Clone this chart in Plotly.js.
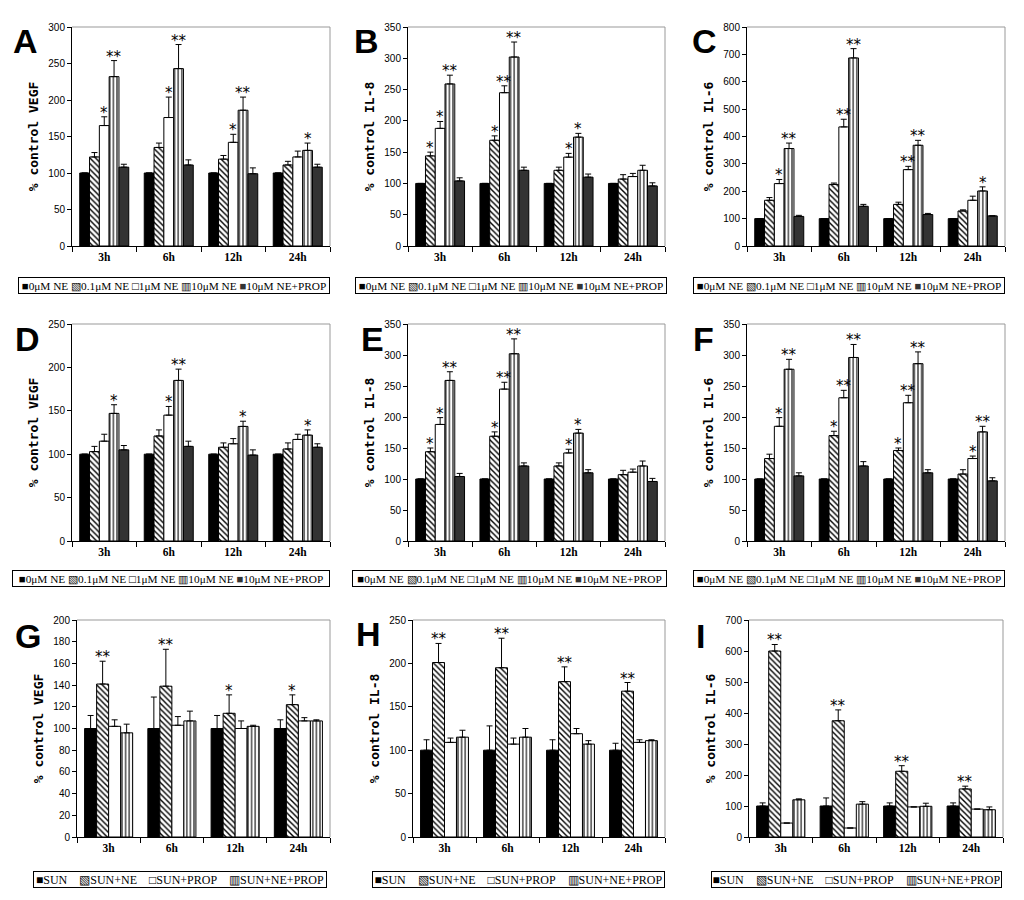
<!DOCTYPE html>
<html><head><meta charset="utf-8">
<script src="https://cdn.plot.ly/plotly-3.0.1.min.js"></script>
<style>body{margin:0;background:#fff}</style>
</head><body><div id="chart" style="width:1024px;height:900px"></div>
<script>
// ---------- categories & series ----------
const hours = ['3h','6h','12h','24h'];
const neSeries = ['0μM NE','0.1μM NE','1μM NE','10μM NE','10μM NE+PROP'];
const sunSeries = ['SUN','SUN+NE','SUN+PROP','SUN+NE+PROP'];
const letters = ['A','B','C','D','E','F','G','H','I'];
const yTitles = ['% control VEGF','% control IL-8','% control IL-6','% control VEGF','% control IL-8','% control IL-6','% control VEGF','% control IL-8','% control IL-6'];
const yMax = [300,350,800,250,350,350,200,250,700];
const yStep = [50,50,100,50,50,50,20,50,100];

// ---------- Panel A (VEGF) ----------
const A_ne0 = [100,100,100,100], A_ne0_err = [0,0,0,0];
const A_ne01 = [122,135,119,111], A_ne01_err = [6,6,5,5];
const A_ne1 = [165,176,142,122], A_ne1_err = [12,28,11,8];
const A_ne10 = [232,243,186,131], A_ne10_err = [22,33,18,10];
const A_prop = [108,111,99,108], A_prop_err = [4,7,8,4];
const A_sig1 = ['*','*','*',''], A_sig10 = ['**','**','**','*'];

// ---------- Panel B (IL-8) ----------
const B_ne0 = [100,100,100,100], B_ne0_err = [0,0,0,0];
const B_ne01 = [144,169,121,107], B_ne01_err = [6,7,5,7];
const B_ne1 = [188,245,142,111], B_ne1_err = [11,11,6,5];
const B_ne10 = [259,302,174,121], B_ne10_err = [14,24,6,8];
const B_prop = [104,121,110,96], B_prop_err = [5,5,5,5];
const B_sig01 = ['*','*','',''], B_sig1 = ['*','**','*',''], B_sig10 = ['**','**','*',''];

// ---------- Panel C (IL-6) ----------
const C_ne0 = [100,100,100,100], C_ne0_err = [0,0,0,0];
const C_ne01 = [167,225,152,128], C_ne01_err = [10,5,8,4];
const C_ne1 = [228,435,279,167], C_ne1_err = [15,28,12,15];
const C_ne10 = [356,687,368,201], C_ne10_err = [20,34,18,15];
const C_prop = [108,145,115,110], C_prop_err = [4,7,4,0];
const C_sig1 = ['*','**','**',''], C_sig10 = ['**','**','**','*'];

// ---------- Panel D (VEGF) ----------
const D_ne0 = [100,100,100,100], D_ne0_err = [0,0,0,0];
const D_ne01 = [103,121,108,106], D_ne01_err = [6,7,5,7];
const D_ne1 = [115,145,112,117], D_ne1_err = [8,10,6,6];
const D_ne10 = [147,185,132,122], D_ne10_err = [10,13,6,6];
const D_prop = [105,109,99,108], D_prop_err = [5,6,6,4];
const D_sig1 = ['','*','',''], D_sig10 = ['*','**','*','*'];

// ---------- Panel E (IL-8) ----------
const E_ne0 = [100,100,100,100], E_ne0_err = [0,0,0,0];
const E_ne01 = [144,169,121,107], E_ne01_err = [6,7,5,7];
const E_ne1 = [188,245,142,111], E_ne1_err = [11,11,6,5];
const E_ne10 = [259,302,174,121], E_ne10_err = [14,24,6,8];
const E_prop = [104,121,110,96], E_prop_err = [5,5,5,5];
const E_sig01 = ['*','*','',''], E_sig1 = ['*','**','*',''], E_sig10 = ['**','**','*',''];

// ---------- Panel F (IL-6) ----------
const F_ne0 = [100,100,100,100], F_ne0_err = [0,0,0,0];
const F_ne01 = [133,170,146,108], F_ne01_err = [7,7,4,7];
const F_ne1 = [185,231,223,133], F_ne1_err = [14,12,12,4];
const F_ne10 = [277,296,286,176], F_ne10_err = [16,21,19,9];
const F_prop = [105,121,110,97], F_prop_err = [5,7,5,5];
const F_sig01 = ['','*','*',''], F_sig1 = ['*','**','**','*'], F_sig10 = ['**','**','**','**'];

// ---------- Panel G (VEGF) ----------
const G_sun = [100,100,100,100], G_sun_err = [12,29,12,8];
const G_sunne = [141,139,114,122], G_sunne_err = [21,34,17,9];
const G_sunprop = [102,103,100,107], G_sunprop_err = [6,8,7,3];
const G_sunneprop = [96,107,102,107], G_sunneprop_err = [8,9,1,1];
const G_sig = ['**','**','*','*'];

// ---------- Panel H (IL-8) ----------
const H_sun = [100,100,100,100], H_sun_err = [12,28,12,8];
const H_sunne = [201,195,179,168], H_sunne_err = [22,34,17,10];
const H_sunprop = [109,107,119,109], H_sunprop_err = [5,7,6,3];
const H_sunneprop = [115,115,107,111], H_sunneprop_err = [8,10,4,1];
const H_sig = ['**','**','**','**'];

// ---------- Panel I (IL-6) ----------
const I_sun = [100,100,100,100], I_sun_err = [10,26,10,10];
const I_sunne = [600,375,212,155], I_sunne_err = [21,35,18,9];
const I_sunprop = [45,29,97,90], I_sunprop_err = [0,0,0,0];
const I_sunneprop = [120,106,99,88], I_sunneprop_err = [3,8,10,9];
const I_sig = ['**','**','**','**'];

const none = ['','','',''];

// ---------- assemble panels from the named arrays ----------
const panels = [
  {names: neSeries, vals:[A_ne0,A_ne01,A_ne1,A_ne10,A_prop], errs:[A_ne0_err,A_ne01_err,A_ne1_err,A_ne10_err,A_prop_err], sig:[none,none,A_sig1,A_sig10,none]},
  {names: neSeries, vals:[B_ne0,B_ne01,B_ne1,B_ne10,B_prop], errs:[B_ne0_err,B_ne01_err,B_ne1_err,B_ne10_err,B_prop_err], sig:[none,B_sig01,B_sig1,B_sig10,none]},
  {names: neSeries, vals:[C_ne0,C_ne01,C_ne1,C_ne10,C_prop], errs:[C_ne0_err,C_ne01_err,C_ne1_err,C_ne10_err,C_prop_err], sig:[none,none,C_sig1,C_sig10,none]},
  {names: neSeries, vals:[D_ne0,D_ne01,D_ne1,D_ne10,D_prop], errs:[D_ne0_err,D_ne01_err,D_ne1_err,D_ne10_err,D_prop_err], sig:[none,none,D_sig1,D_sig10,none]},
  {names: neSeries, vals:[E_ne0,E_ne01,E_ne1,E_ne10,E_prop], errs:[E_ne0_err,E_ne01_err,E_ne1_err,E_ne10_err,E_prop_err], sig:[none,E_sig01,E_sig1,E_sig10,none]},
  {names: neSeries, vals:[F_ne0,F_ne01,F_ne1,F_ne10,F_prop], errs:[F_ne0_err,F_ne01_err,F_ne1_err,F_ne10_err,F_prop_err], sig:[none,F_sig01,F_sig1,F_sig10,none]},
  {names: sunSeries, vals:[G_sun,G_sunne,G_sunprop,G_sunneprop], errs:[G_sun_err,G_sunne_err,G_sunprop_err,G_sunneprop_err], sig:[none,G_sig,none,none]},
  {names: sunSeries, vals:[H_sun,H_sunne,H_sunprop,H_sunneprop], errs:[H_sun_err,H_sunne_err,H_sunprop_err,H_sunneprop_err], sig:[none,H_sig,none,none]},
  {names: sunSeries, vals:[I_sun,I_sunne,I_sunprop,I_sunneprop], errs:[I_sun_err,I_sunne_err,I_sunprop_err,I_sunneprop_err], sig:[none,I_sig,none,none]}
];

// ---------- styles ----------
const hatch = {shape:'\\', fgcolor:'#000', bgcolor:'#fff', size:4, solidity:0.35};
const vlines = {shape:'|', fgcolor:'#000', bgcolor:'#fff', size:3.6, solidity:0.3};
const neStyle = [
  {color:'#000'}, {color:'#fff', pattern:hatch}, {color:'#fff'}, {color:'#fff', pattern:vlines}, {color:'#333'}
];
const sunStyle = [
  {color:'#000'}, {color:'#fff', pattern:hatch}, {color:'#fff'}, {color:'#fff', pattern:vlines}
];
const neGlyphs = ['■','▧','□','▥','■'], neGlyphCol = ['#000','#000','#000','#000','#333'];
const sunGlyphs = ['■','▧','□','▥'], sunGlyphCol = ['#000','#000','#000','#000'];

// ---------- geometry (pixels in the 1024x900 page) ----------
const W = 1024, H = 900;
const colX = [[[72,330],[408,665],[747,1005]], [[72,330],[408,665],[747,1005]], [[77,330],[413,665],[749,1003]]];
const rowY = [[27,246],[324,541],[620,837]];
const legX = [[[18,330],[355,667],[693,1005]], [[12,330],[352,667],[693,1005]], [[33,327],[372,665],[711,1002]]];
const legY = [285, 578, 879];
const letterPos = [[25,27],[366,27],[704,27],[27,325],[372,325],[703,325],[28,622],[368,620],[700,622]];
const BARGAP = 0.24;

const traces = [];
const annotations = [];
const shapes = [];
const layout = {
  width: W, height: H, margin:{l:0,r:0,t:0,b:0},
  paper_bgcolor:'#fff', plot_bgcolor:'#fff',
  barmode:'group', bargap: BARGAP, bargroupgap: 0,
  showlegend:false, font:{family:'Liberation Sans', color:'#000'}
};

panels.forEach((p, k) => {
  const r = Math.floor(k/3), c = k%3;
  const sfx = k === 0 ? '' : String(k+1);
  const xa = 'x'+sfx, ya = 'y'+sfx;
  const styles = p.names.length === 5 ? neStyle : sunStyle;
  const n = p.names.length;
  p.vals.forEach((v, i) => {
    traces.push({
      type:'bar', x: hours, y: v, name: p.names[i], xaxis: xa, yaxis: ya,
      marker: Object.assign({line:{color:'#000', width:1}}, styles[i]),
      error_y: {type:'data', symmetric:false, array: p.errs[i], arrayminus: v.map(()=>0), color:'#000', thickness:1, width:3},
      hoverinfo:'x+y+name'
    });
    // significance stars
    const w = (1-BARGAP)/n;
    p.sig[i].forEach((s, j) => {
      if (!s) return;
      annotations.push({xref: xa, yref: ya, x: j - (1-BARGAP)/2 + w*(i+0.5), y: v[j] + p.errs[i][j],
        text: s, showarrow:false, yanchor:'bottom', xanchor:'center', yshift:-7,
        font:{family:'DejaVu Sans', size:15, color:'#000'}});
    });
  });
  const [x0,x1] = colX[r][c], [y0,y1] = rowY[r];
  layout['xaxis'+sfx] = {
    domain:[x0/W, x1/W], anchor: ya, type:'category', tickson:'boundaries',
    ticks:'outside', ticklen:5, tickcolor:'#000', showline:true, linecolor:'#000', linewidth:1,
    showgrid:false, zeroline:false, tickfont:{family:'Liberation Serif', size:11.5, color:'#000', weight:'bold'}
  };
  layout['yaxis'+sfx] = {
    domain:[1-y1/H, 1-y0/H], anchor: xa, range:[0, yMax[k]], dtick: yStep[k], tick0:0,
    ticks:'outside', ticklen:4, tickcolor:'#000', showline:true, linecolor:'#000', linewidth:1,
    showgrid:false, zeroline:false, tickfont:{family:'Liberation Sans', size:10, color:'#000'},
    title:{text: yTitles[k], standoff:6, font:{family:'DejaVu Sans Mono', size:13, color:'#000', weight:'bold'}}
  };
  // grey top & right frame
  shapes.push({type:'line', xref: xa+' domain', yref: ya+' domain', x0:0, x1:1, y0:1, y1:1, line:{color:'#999', width:1}});
  shapes.push({type:'line', xref: xa+' domain', yref: ya+' domain', x0:1, x1:1, y0:0, y1:1, line:{color:'#999', width:1}});
  // panel letter
  annotations.push({xref:'paper', yref:'paper', x: letterPos[k][0]/W, y: 1-(letterPos[k][1]-7)/H,
    xanchor:'center', yanchor:'top', showarrow:false, text: letters[k],
    font:{family:'Liberation Sans', size:34, color:'#000', weight:'bold'}});
  // legend box built from the series names
  const glyphs = n === 5 ? neGlyphs : sunGlyphs, gcol = n === 5 ? neGlyphCol : sunGlyphCol;
  const sep = n === 5 ? ' ' : '&nbsp;&nbsp;&nbsp;&nbsp;';
  const txt = p.names.map((nm, i) => `<span style="color:${gcol[i]}">${glyphs[i]}</span>${nm}`).join(sep);
  const [lx0, lx1] = legX[r][c];
  annotations.push({xref:'paper', yref:'paper', x:(lx0+lx1)/2/W, y:1-legY[r]/H, xanchor:'center', yanchor:'middle',
    showarrow:false, text: txt, width: lx1-lx0-4, height: 13, align:'center', bgcolor:'#fff',
    bordercolor:'#000', borderwidth:1, borderpad:1,
    font:{family:'Liberation Serif', size: n === 5 ? 11.3 : 12, color:'#000'}});
});

layout.annotations = annotations;
layout.shapes = shapes;
Plotly.newPlot('chart', traces, layout, {displayModeBar:false, staticPlot:true});
</script></body></html>
